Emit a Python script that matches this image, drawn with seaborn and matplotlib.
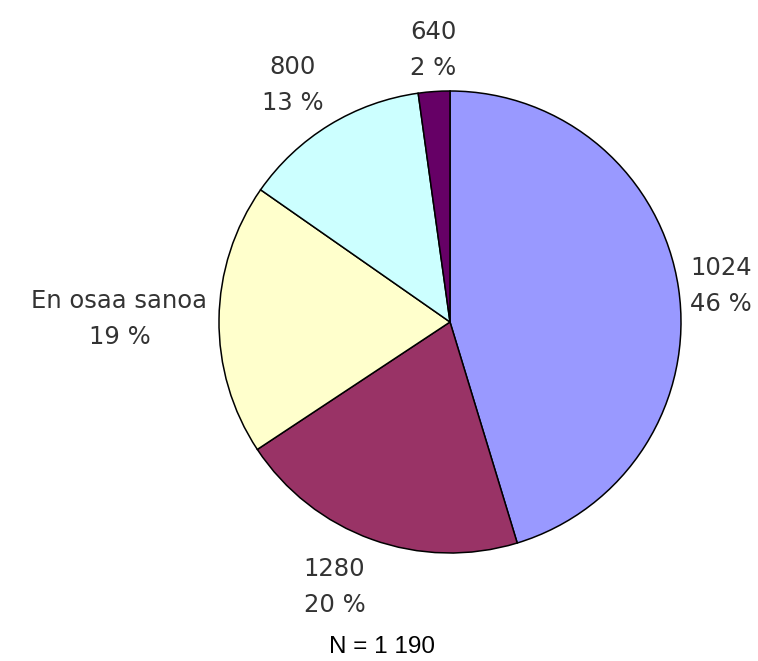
import matplotlib
matplotlib.use("Agg")
import matplotlib.pyplot as plt
import seaborn as sns
import numpy as np

# slice data, clockwise from 12 o'clock
categories = ["1024", "1280", "En osaa sanoa", "800", "640"]
shares = [45.3, 20.4, 19.0, 13.1, 2.2]      # wedge sizes as drawn
pct_labels = [46, 20, 19, 13, 2]            # percentages as printed
colors = ["#9999FF", "#993366", "#FFFFCC", "#CCFFFF", "#660066"]
n_text = "N = 1 190"

sns.set_style("white")
plt.rcParams['font.family'] = ['DejaVu Sans']

fig = plt.figure(figsize=(7.58, 6.61), dpi=100)
ax = fig.add_axes([219 / 758, 108 / 661, 462 / 758, 462 / 661])

palette = sns.color_palette(colors)
wedges, _ = ax.pie(shares, colors=palette, startangle=90, counterclock=False,
                   radius=1, wedgeprops=dict(edgecolor="black", linewidth=1.1))
ax.set_xlim(-1, 1)
ax.set_ylim(-1, 1)
ax.set_aspect("equal")
ax.axis("off")

# labels outside, Excel-like placement
for w, cat, pct in zip(wedges, categories, pct_labels):
    ang = np.deg2rad((w.theta1 + w.theta2) / 2)
    c, s = np.cos(ang), np.sin(ang)
    ha = "left" if c > 0.15 else ("right" if c < -0.15 else "center")
    va = "bottom" if s > 0.3 else ("top" if s < -0.3 else "center")
    r = 1.08 if va == "top" else 1.05
    ax.text(r * c, r * s, f"{cat}\n{pct} %", ha=ha, va=va, multialignment="center",
            fontsize=17.5, color="#333333", linespacing=1.65, clip_on=False)

fig.text(382 / 758, 1 - 647 / 661, n_text, ha="center", va="center",
         fontsize=17.5, family=["Liberation Sans", "DejaVu Sans"], color="black")

fig.savefig("out.png", dpi=100, facecolor="white")
